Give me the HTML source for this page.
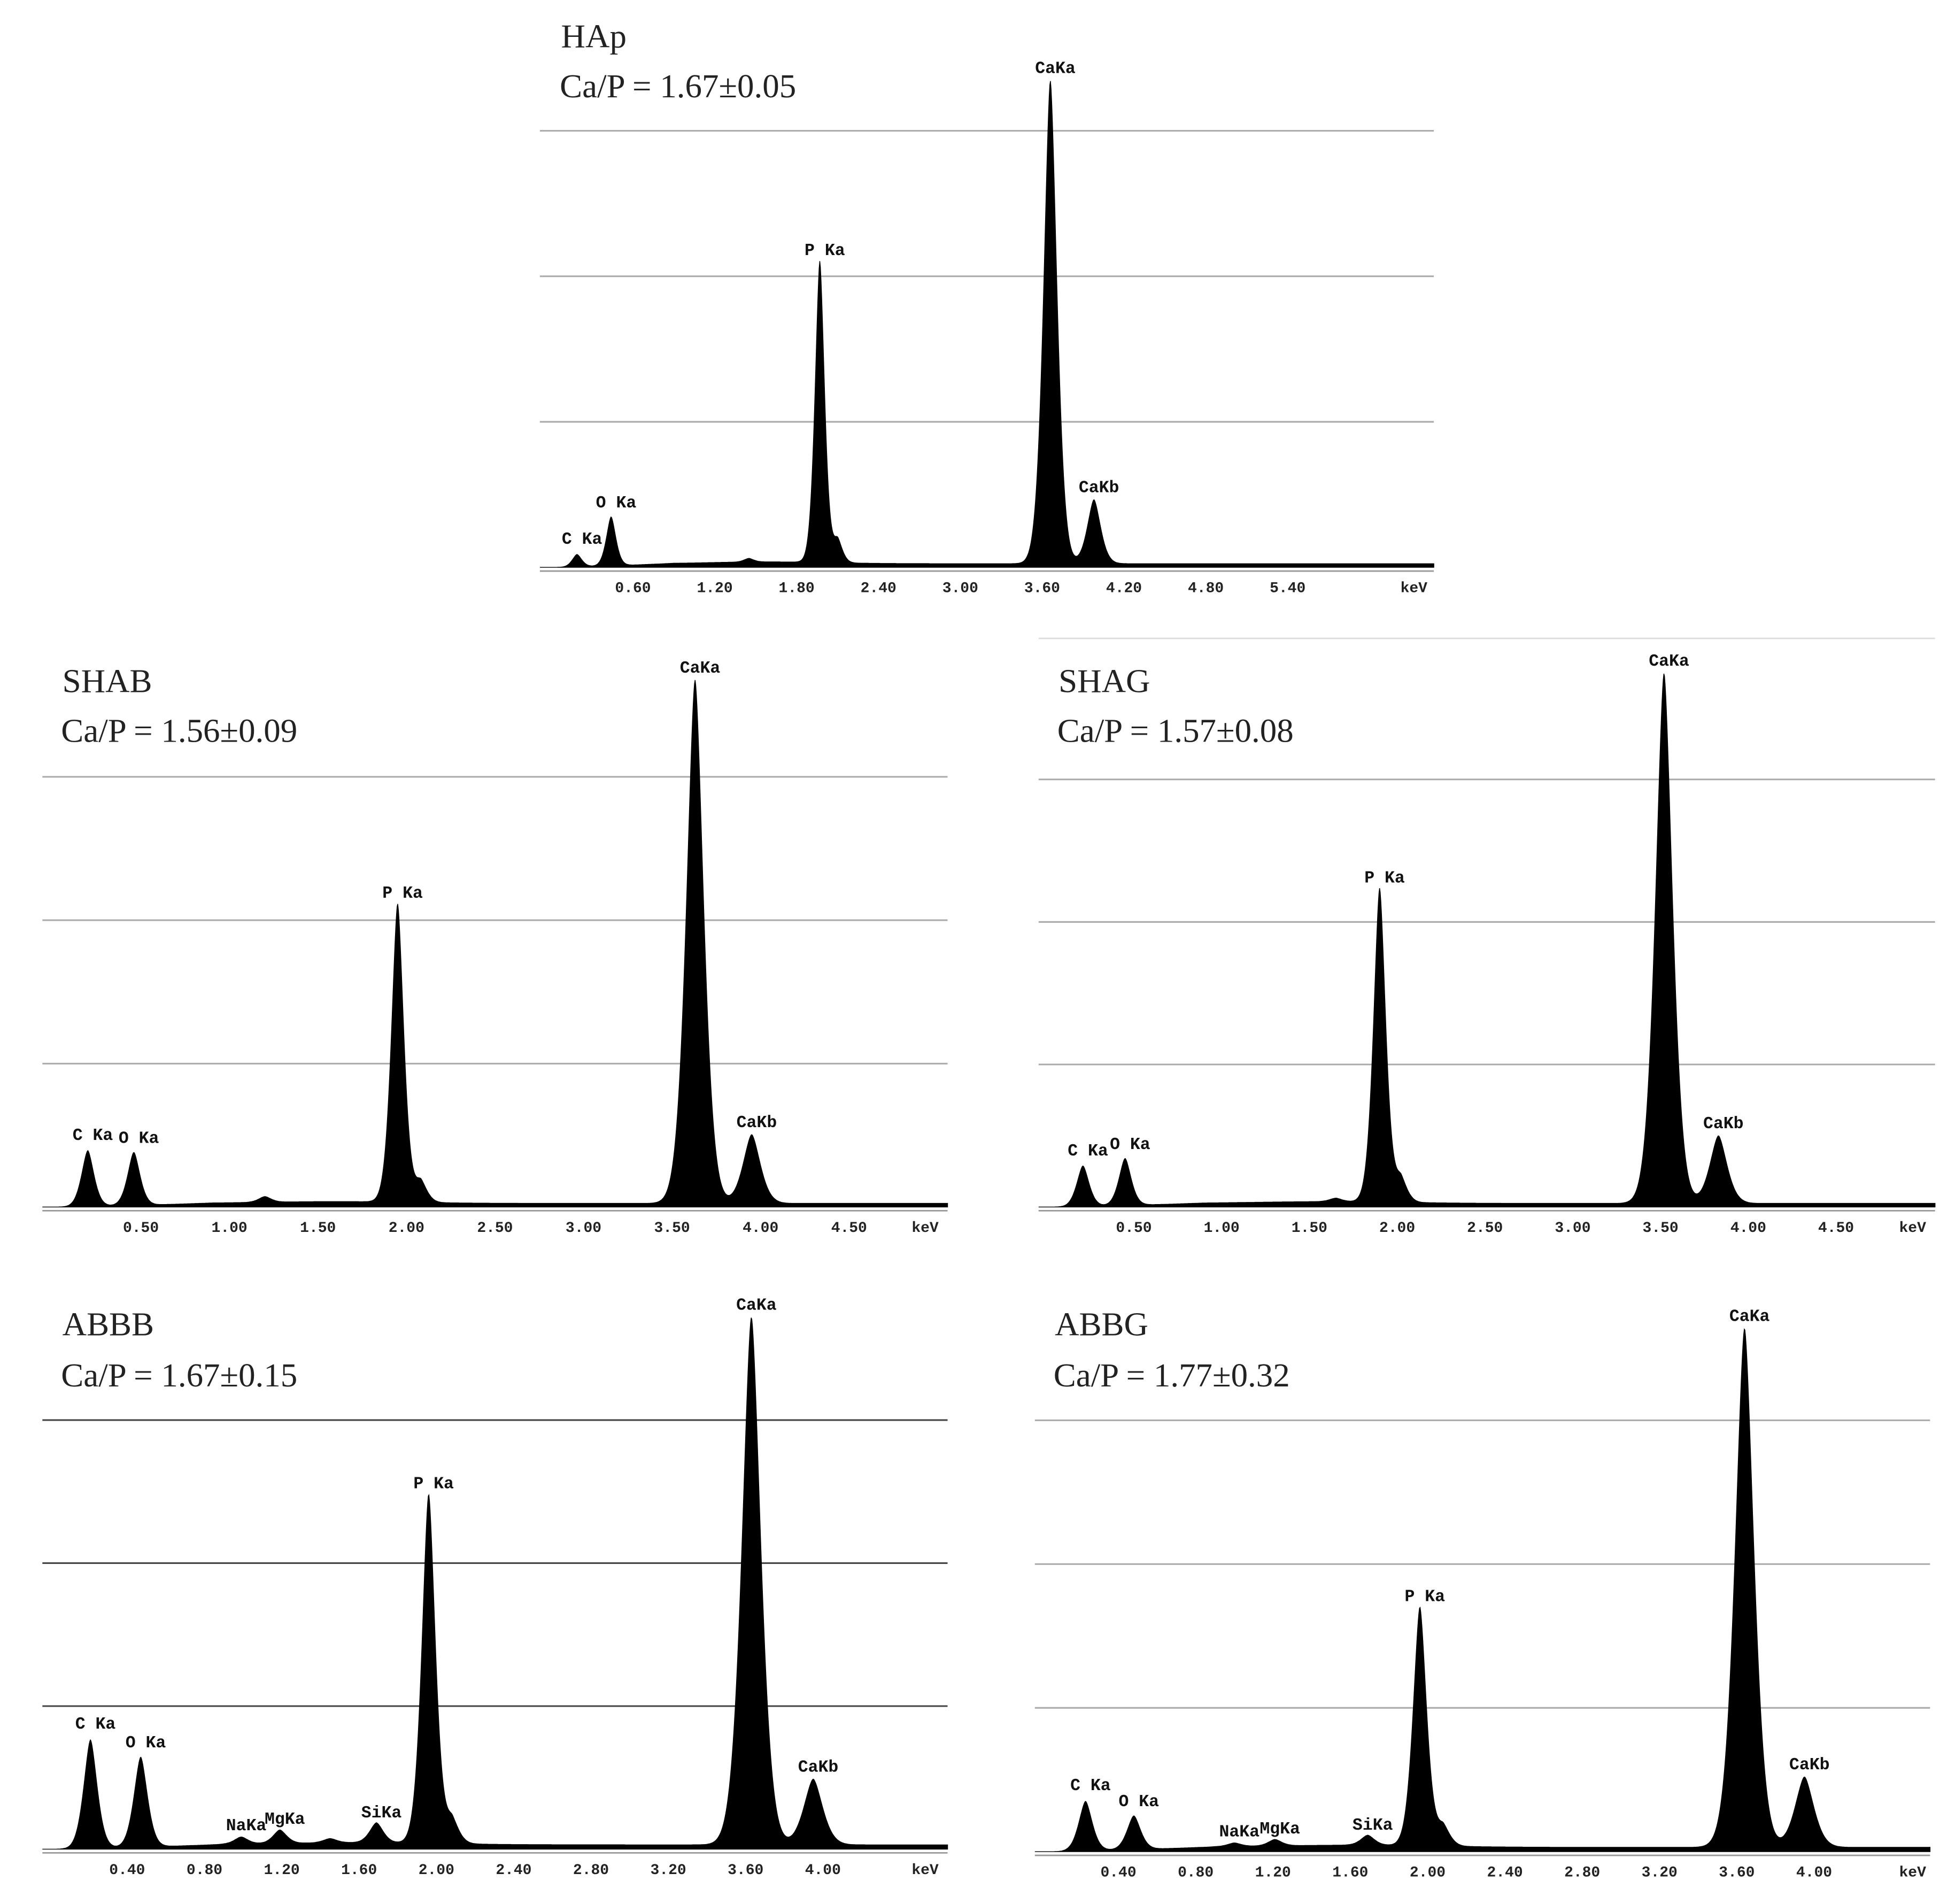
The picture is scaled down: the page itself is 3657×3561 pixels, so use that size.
<!DOCTYPE html>
<html><head><meta charset="utf-8"><style>
html,body{margin:0;padding:0;background:#fff;}
svg{display:block;}
.ttl{font-family:"Liberation Serif",serif;font-size:27px;fill:#222;}
.pk{font-family:"Liberation Mono",monospace;font-weight:bold;font-size:13.5px;fill:#111;}
.tk{font-family:"Liberation Mono",monospace;font-weight:bold;font-size:12px;fill:#222;}
</style></head><body>
<svg id="fig" width="3657" height="3561" viewBox="0 0 1568 1527" preserveAspectRatio="none" xmlns="http://www.w3.org/2000/svg"></svg>
<script>
// ---- panel data (energies in keV, heights in counts, gridlines at 1000/2000/3000) ----
const panelNames = ["HAp","SHAB","SHAG","ABBB","ABBG"];
const ratios = ["Ca/P = 1.67±0.05","Ca/P = 1.56±0.09","Ca/P = 1.57±0.08","Ca/P = 1.67±0.15","Ca/P = 1.77±0.32"];
const gridVals = [1000,2000,3000];
const hapLabels = ["C Ka","O Ka","","P Ka","","CaKa","CaKb"];
const hapEnergy = [0.19,0.44,1.45,1.97,2.1,3.66,3.98];
const hapHeight = [86,336,25,2070,160,3320,440];
const shabLabels = ["C Ka","O Ka","","P Ka","","CaKa","CaKb"];
const shabEnergy = [0.2,0.46,1.2,1.95,2.08,3.63,3.95];
const shabHeight = [390,370,40,2080,150,3650,480];
const shagLabels = ["C Ka","O Ka","","P Ka","","CaKa","CaKb"];
const shagEnergy = [0.21,0.45,1.65,1.9,2.02,3.52,3.83];
const shagHeight = [285,330,25,2200,170,3720,475];
const abbbLabels = ["C Ka","O Ka","NaKa","MgKa","","SiKa","P Ka","","CaKa","CaKb"];
const abbbEnergy = [0.21,0.47,0.99,1.19,1.45,1.69,1.96,2.08,3.63,3.95];
const abbbHeight = [760,630,50,95,30,140,2440,170,3690,460];
const abbgLabels = ["C Ka","O Ka","NaKa","MgKa","SiKa","P Ka","","CaKa","CaKb"];
const abbgEnergy = [0.23,0.48,1.0,1.21,1.69,1.96,2.08,3.64,3.95];
const abbgHeight = [345,235,25,45,70,1660,140,3610,490];
const hapTicks = ["0.60","1.20","1.80","2.40","3.00","3.60","4.20","4.80","5.40"];
const halfTicks = ["0.50","1.00","1.50","2.00","2.50","3.00","3.50","4.00","4.50"];
const fortyTicks = ["0.40","0.80","1.20","1.60","2.00","2.40","2.80","3.20","3.60","4.00"];

// ---- layout (display coords) ----
const layout = [
 {x0:433,x1:1150,e0:442,ppk:109.4,base:455,ppc:0.1167,tx:450,ty1:38,ty2:78,ticks:hapTicks,lab:hapLabels,en:hapEnergy,ht:hapHeight,bg:25,gc:"#aaa",keV:1134},
 {x0:34,x1:760,e0:42,ppk:142,base:968,ppc:0.115,tx:50,ty1:555,ty2:595,ticks:halfTicks,lab:shabLabels,en:shabEnergy,ht:shabHeight,bg:25,gc:"#aaa",keV:742},
 {x0:833,x1:1552,e0:839,ppk:140.8,base:968,ppc:0.1143,tx:849,ty1:555,ty2:595,ticks:halfTicks,lab:shagLabels,en:shagEnergy,ht:shagHeight,bg:25,gc:"#aaa",keV:1534},
 {x0:34,x1:760,e0:40,ppk:155,base:1483,ppc:0.1147,tx:50,ty1:1071,ty2:1112,ticks:fortyTicks,lab:abbbLabels,en:abbbEnergy,ht:abbbHeight,bg:30,gc:"#444",keV:742},
 {x0:830,x1:1548,e0:835,ppk:155,base:1485,ppc:0.1153,tx:846,ty1:1071,ty2:1112,ticks:fortyTicks,lab:abbgLabels,en:abbgEnergy,ht:abbgHeight,bg:30,gc:"#aaa",keV:1534}
];
const NS="http://www.w3.org/2000/svg";
const svg=document.getElementById('fig');
function mk(tag,attrs,parent){const e=document.createElementNS(NS,tag);for(const k in attrs)e.setAttribute(k,attrs[k]);parent.appendChild(e);return e;}
const sep=mk('line',{x1:833,y1:512,x2:1552,y2:512,stroke:'#ddd','stroke-width':1.2},svg);



layout.forEach((L,pi)=>{
  const g=mk('g',{},svg);
  
  
  const X=e=>L.e0+e*L.ppk;
  const Y=c=>L.base-c*L.ppc;
  gridVals.forEach((v,i)=>{
    const l=mk('line',{x1:L.x0,x2:L.x1,y1:Y(v),y2:Y(v),stroke:L.gc,'stroke-width':1.3},g);
    
    
  });
  const ax=mk('line',{x1:L.x0,x2:L.x1,y1:L.base+3,y2:L.base+3,stroke:'#999','stroke-width':1.2},g);
  
  
  let d='M'+L.x0+' '+L.base;
  for(let px=L.x0;px<=L.x1;px+=0.5){
    const e=(px-L.e0)/L.ppk;
    let c=L.bg*Math.min(1,Math.max(0,(e-0.1)/0.8))*(1+0.5*Math.exp(-Math.pow((e-1.6)/0.6,2)));
    L.en.forEach((ce,i)=>{
      const s=(i>=L.en.length-2)?0.045:0.032;
      const dd=Math.abs(e-ce)/s;
      c+=L.ht[i]*Math.exp(-Math.pow(dd,1.6)/2);
    });
    d+=' L'+px.toFixed(1)+' '+Y(c).toFixed(1);
  }
  d+=' L'+L.x1+' '+L.base+' Z';
  const sp=mk('path',{d:d,fill:'#000',stroke:'#000','stroke-width':0.6},g);
  
  
  L.lab.forEach((t,i)=>{
    if(!t)return;
    const tx=mk('text',{x:X(L.en[i])+4,y:Y(L.ht[i]+L.bg)-6,'text-anchor':'middle',class:'pk'},g);
    tx.textContent=t;
    
    
  });
  L.ticks.forEach(t=>{
    const tx=mk('text',{x:X(parseFloat(t)),y:L.base+20,'text-anchor':'middle',class:'tk'},g);
    tx.textContent=t;
    
    
  });
  const kv=mk('text',{x:L.keV,y:L.base+20,'text-anchor':'middle',class:'tk'},g);
  kv.textContent='keV';
  
  
  const t1=mk('text',{x:L.tx,y:L.ty1,class:'ttl'},g);
  t1.textContent=panelNames[pi];
  
  
  const t2=mk('text',{x:L.tx-1,y:L.ty2,class:'ttl'},g);
  t2.textContent=ratios[pi];
  
  
});
</script>
</body></html>
